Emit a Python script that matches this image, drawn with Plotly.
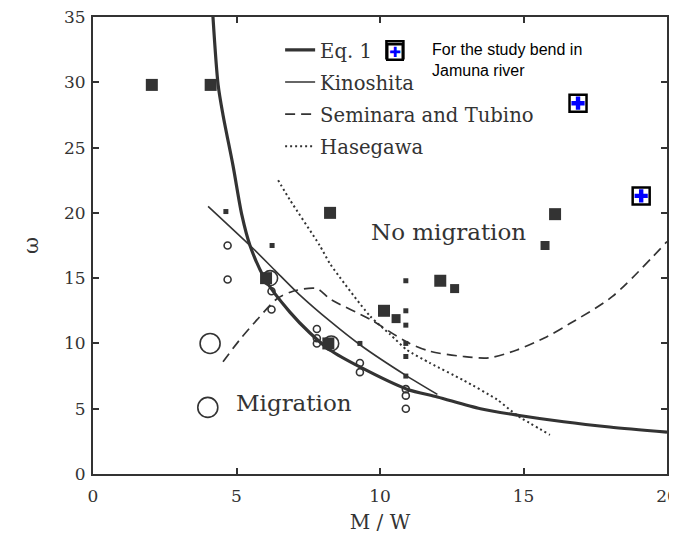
import plotly.graph_objects as go

# ---------------- data ----------------
eq1_x = [4.18, 4.36, 4.53, 4.88, 5.19, 5.47, 6.0, 6.86, 7.56, 8.26, 9.3, 10.94, 12.0, 13.5, 14.8, 16.4, 18.0, 20.0]
eq1_y = [35.0, 29.8, 27.5, 23.6, 19.8, 17.5, 14.9, 12.4, 10.8, 9.5, 8.2, 6.5, 5.9, 5.0, 4.5, 4.0, 3.6, 3.2]

kino_x = [4.01, 5.47, 6.34, 7.21, 8.26, 9.3, 10.94, 12.0]
kino_y = [20.5, 17.5, 15.6, 13.7, 11.7, 9.9, 7.5, 6.1]

semi_x = [4.53, 5.12, 5.71, 6.4, 6.97, 7.8, 8.26, 9.65, 10.94, 11.74, 12.9, 13.8, 14.77, 15.8, 16.6, 18.1, 20.0]
semi_y = [8.6, 10.3, 11.8, 13.4, 14.0, 14.2, 13.4, 11.85, 10.1, 9.4, 9.0, 8.9, 9.5, 10.5, 11.5, 13.6, 17.8]

hase_x = [6.45, 6.86, 7.9, 8.26, 9.65, 10.35, 10.94, 11.74, 12.89, 14.08, 14.77, 15.92]
hase_y = [22.5, 21.0, 17.5, 16.1, 12.1, 10.7, 9.5, 8.5, 7.2, 5.7, 4.5, 3.0]

nomig_big_x = [2.05, 4.1, 8.26, 16.1, 10.14, 12.1, 6.03, 8.2]
nomig_big_y = [29.8, 29.8, 20.0, 19.9, 12.5, 14.8, 15.0, 10.0]
nomig_mid_x = [15.75, 12.6, 10.56]
nomig_mid_y = [17.5, 14.2, 11.9]
nomig_small_x = [4.63, 6.24, 10.9, 10.9, 10.9, 10.9, 10.9, 10.9, 9.3]
nomig_small_y = [20.1, 17.5, 14.8, 12.5, 11.4, 10.0, 9.0, 7.5, 10.0]

mig_small_x = [4.69, 4.69, 6.22, 6.22, 7.8, 7.8, 7.8, 9.3, 9.3, 10.9, 10.9, 10.9]
mig_small_y = [17.5, 14.9, 14.0, 12.6, 11.1, 10.4, 10.0, 8.5, 7.8, 6.5, 6.0, 5.0]
mig_mid_x = [6.17, 8.3]
mig_mid_y = [15.0, 10.0]
mig_big_x = [4.08, 4.0]
mig_big_y = [10.0, 5.1]

study_x = [10.52, 16.9, 19.1]
study_y = [32.5, 28.4, 21.3]

x_ticks = [0, 5, 10, 15, 20]
y_ticks = [0, 5, 10, 15, 20, 25, 30, 35]

# ---------------- figure ----------------
INK = "#333333"
SERIF = "DejaVu Serif"

fig = go.Figure()

fig.add_trace(go.Scatter(x=eq1_x, y=eq1_y, mode="lines", name="Eq. 1",
                         line=dict(color=INK, width=3.2, shape="spline", smoothing=0.8), legendgroup="a"))
fig.add_trace(go.Scatter(x=kino_x, y=kino_y, mode="lines", name="Kinoshita",
                         line=dict(color=INK, width=1.6, shape="spline", smoothing=0.6), legendgroup="b"))
fig.add_trace(go.Scatter(x=semi_x, y=semi_y, mode="lines", name="Seminara and Tubino",
                         line=dict(color=INK, width=1.7, dash="10px,6px", shape="spline", smoothing=0.8),
                         legendgroup="c"))
fig.add_trace(go.Scatter(x=hase_x, y=hase_y, mode="lines", name="Hasegawa",
                         line=dict(color=INK, width=2, dash="2px,3px", shape="spline", smoothing=0.6),
                         legendgroup="d"))

# circles (migration)
for xs, ys, sz in [(mig_small_x, mig_small_y, 7), (mig_mid_x, mig_mid_y, 15), (mig_big_x, mig_big_y, 20)]:
    fig.add_trace(go.Scatter(x=xs, y=ys, mode="markers", showlegend=False,
                             marker=dict(symbol="circle-open", size=sz, color=INK, line=dict(width=1.6))))
# squares (no migration)
for xs, ys, sz in [(nomig_big_x, nomig_big_y, 12), (nomig_mid_x, nomig_mid_y, 9), (nomig_small_x, nomig_small_y, 5)]:
    fig.add_trace(go.Scatter(x=xs, y=ys, mode="markers", showlegend=False,
                             marker=dict(symbol="square", size=sz, color=INK, line=dict(width=0))))

# study bend points
fig.add_trace(go.Scatter(x=study_x, y=study_y, mode="markers", showlegend=False,
                         marker=dict(symbol="square", size=17, color="white", line=dict(color="black", width=2.5))))
fig.add_trace(go.Scatter(x=study_x, y=study_y, mode="markers", showlegend=False,
                         marker=dict(symbol="cross", size=11, color="#0000ff", line=dict(width=0))))

fig.add_annotation(x=12.4, y=18.5, xref="x", yref="y", text="No migration", showarrow=False,
                   font=dict(family=SERIF, size=23, color=INK))
fig.add_annotation(x=7.0, y=5.4, xref="x", yref="y", text="Migration", showarrow=False,
                   font=dict(family=SERIF, size=23, color=INK))

# study bend legend key
fig.add_annotation(x=10.52, y=32.35, xref="x", yref="y", text="✚", showarrow=False,
                   font=dict(family="DejaVu Sans", size=14, color="#0000ff"),
                   bgcolor="white", bordercolor="black", borderwidth=2.5, borderpad=0,
                   width=13, height=13)
fig.add_annotation(x=11.74, y=33.3, xref="x", yref="y", text="For the study bend in<br>Jamuna river",
                   showarrow=False, xanchor="left", yanchor="top", align="left",
                   font=dict(family="Liberation Sans", size=16, color="black"))

axis_common = dict(showgrid=False, zeroline=False, showline=True, linecolor=INK, linewidth=2,
                   mirror="ticks", ticks="inside", ticklen=6, tickwidth=1.5, tickcolor=INK,
                   automargin=False, ticklabeloverflow="allow",
                   tickfont=dict(family=SERIF, size=17, color=INK))

fig.update_layout(
    width=677, height=536,
    margin=dict(l=85, r=18, t=9, b=70),
    paper_bgcolor="white", plot_bgcolor="white",
    xaxis=dict(range=[0, 20], tickvals=x_ticks, ticklabelstandoff=6,
               title=dict(text="M / W", font=dict(family=SERIF, size=20, color=INK), standoff=10),
               **axis_common),
    yaxis=dict(range=[0, 35], tickvals=y_ticks, ticklabelstandoff=2,
               title=dict(text="ω", font=dict(family=SERIF, size=21, color=INK), standoff=20),
               **axis_common),
    legend=dict(x=0.326, y=0.970, xanchor="left", yanchor="top", bgcolor="rgba(0,0,0,0)",
                font=dict(family=SERIF, size=19.6, color=INK), tracegroupgap=3.6, itemwidth=30),
    showlegend=True,
)

fig.write_html("out.html")
